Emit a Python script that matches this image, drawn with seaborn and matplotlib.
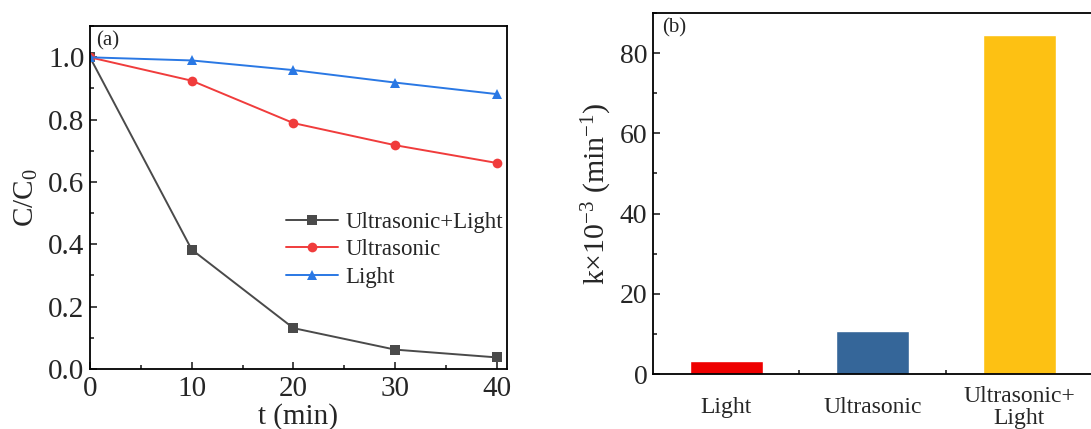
import matplotlib
matplotlib.use("Agg")
import matplotlib.pyplot as plt
import seaborn as sns
import pandas as pd
from matplotlib.ticker import MultipleLocator

sns.set_theme(style="ticks")
plt.rcParams['font.family'] = ['Liberation Serif', 'DejaVu Serif']
plt.rcParams['mathtext.fontset'] = 'custom'
plt.rcParams['mathtext.rm'] = 'Liberation Serif'
plt.rcParams['mathtext.it'] = 'Liberation Serif:italic'

# ---- data ----
time_min = [0, 10, 20, 30, 40]
ultra_light = [1.0, 0.383, 0.131, 0.062, 0.037]
ultrasonic = [1.0, 0.925, 0.789, 0.718, 0.661]
light = [1.0, 0.990, 0.959, 0.919, 0.882]
series_names = ["Ultrasonic+Light", "Ultrasonic", "Light"]

bar_categories = ["Light", "Ultrasonic", "Ultrasonic+\nLight"]
bar_values = [3.2, 10.7, 84.5]

line_colors = ["#4A4A4A", "#F03C3C", "#2A78E4"]
line_markers = ["s", "o", "^"]
bar_colors = ["#EE0000", "#356699", "#FDC113"]

df = pd.DataFrame({
    "t": time_min * 3,
    "C": ultra_light + ultrasonic + light,
    "series": [series_names[0]] * 5 + [series_names[1]] * 5 + [series_names[2]] * 5,
})
dfb = pd.DataFrame({"cat": bar_categories, "k": bar_values})

fig = plt.figure(figsize=(10.91, 4.29), dpi=100)
ax1 = fig.add_axes([0.0825, 0.140, 0.3822, 0.799])
ax2 = fig.add_axes([0.5985, 0.128, 0.4042, 0.8417])

# ---- panel (a) ----
sns.lineplot(data=df, x="t", y="C", hue="series", style="series",
             palette=line_colors, markers=line_markers, dashes=False,
             markersize=7, linewidth=1.4, markeredgewidth=0, ax=ax1)
ax1.set_xlim(0, 41)
ax1.set_ylim(0, 1.1)
ax1.set_xticks([0, 10, 20, 30, 40])
ax1.set_yticks([0.0, 0.2, 0.4, 0.6, 0.8, 1.0])
ax1.set_yticklabels(["0.0", "0.2", "0.4", "0.6", "0.8", "1.0"])
ax1.xaxis.set_minor_locator(MultipleLocator(5))
ax1.yaxis.set_minor_locator(MultipleLocator(0.1))
ax1.tick_params(which="both", direction="in", top=False, right=False, width=1.2)
ax1.tick_params(which="major", length=5, labelsize=21)
ax1.tick_params(axis="x", which="major", pad=5)
ax1.tick_params(axis="y", which="major", pad=4)
ax1.tick_params(which="minor", length=3)
ax1.set_xlabel("t (min)", fontsize=21, labelpad=1)
ax1.set_ylabel("C/C$_0$", fontsize=21, labelpad=6)
for s in ax1.spines.values():
    s.set_linewidth(1.3)
    s.set_color("black")
ax1.text(0.015, 0.985, "(a)", transform=ax1.transAxes, fontsize=15, va="top", ha="left")
leg = ax1.legend(loc="upper left", bbox_to_anchor=(0.447, 0.485), frameon=False,
                 fontsize=16.5, handlelength=2.3, handletextpad=0.3, labelspacing=0.28,
                 borderaxespad=0)

# ---- panel (b) ----
sns.barplot(data=dfb, x="cat", y="k", hue="cat", palette=bar_colors, legend=False,
            width=0.5, saturation=1, ax=ax2)
ax2.set_xlim(-0.5, 2.51)
ax2.set_ylim(0, 90)
ax2.set_yticks([0, 20, 40, 60, 80])
ax2.yaxis.set_minor_locator(MultipleLocator(10))
ax2.set_xticks([0, 1, 2])
ax2.set_xticks([0.5, 1.5], minor=True)
ax2.set_xticklabels(bar_categories, fontsize=17, va="center", linespacing=1.05)
ax2.tick_params(axis="x", which="major", pad=24)
ax2.tick_params(which="both", direction="in", top=False, right=False, width=1.2)
ax2.tick_params(axis="y", which="major", length=5, labelsize=20, pad=4)
ax2.tick_params(axis="x", which="major", length=5)
ax2.tick_params(which="minor", length=3)
ax2.set_xlabel("")
ax2.set_ylabel("k×10$^{-3}$ (min$^{-1}$)", fontsize=21.5, labelpad=4)
for s in ax2.spines.values():
    s.set_linewidth(1.3)
    s.set_color("black")
ax2.text(0.02, 0.985, "(b)", transform=ax2.transAxes, fontsize=15, va="top", ha="left")

fig.savefig("out.png", dpi=100)
